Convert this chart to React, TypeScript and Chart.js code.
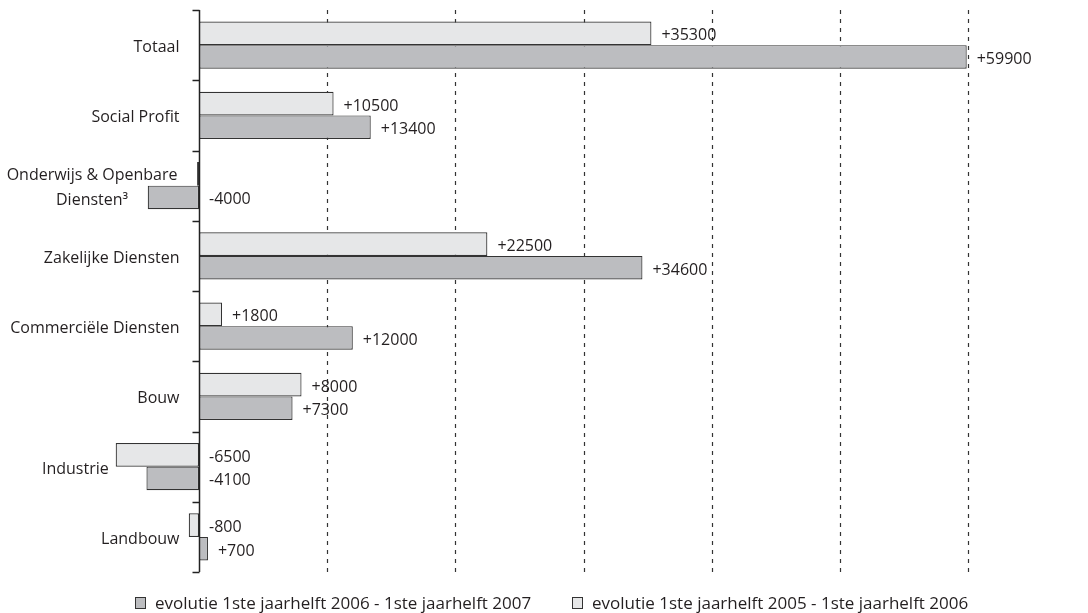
import React, { useEffect, useRef } from "react";
import { Chart, registerables } from "chart.js";

Chart.register(...registerables);

const categories: string[][] = [
  ["Totaal"],
  ["Social Profit"],
  ["Onderwijs & Openbare", "Diensten³"],
  ["Zakelijke Diensten"],
  ["Commerciële Diensten"],
  ["Bouw"],
  ["Industrie"],
  ["Landbouw"],
];
const evol0506 = [35300, 10500, -150, 22500, 1800, 8000, -6500, -800];
const evol0607 = [59900, 13400, -4000, 34600, 12000, 7300, -4100, 700];
const gridValues = [10000, 20000, 30000, 40000, 50000, 60000];
const seriesNames = [
  "evolutie 1ste jaarhelft 2006 - 1ste jaarhelft 2007",
  "evolutie 1ste jaarhelft 2005 - 1ste jaarhelft 2006",
];

const LIGHT = "#e6e7e8";
const DARK = "#bcbdc0";
const EDGE = "#333333";
const TEXT = "#231f20";
const FONT = "'Open Sans', 'DejaVu Sans', sans-serif";

const fmt = (v: number) => (v > 0 ? "+" : "") + String(v);

const decorPlugin = {
  id: "decor",
  beforeDatasetsDraw(chart: any) {
    const { ctx, chartArea, scales } = chart;
    const x = scales.x;
    ctx.save();
    ctx.strokeStyle = EDGE;
    ctx.lineWidth = 1.2;
    ctx.setLineDash([4, 5]);
    gridValues.forEach((v) => {
      const px = Math.round(x.getPixelForValue(v)) + 0.5;
      ctx.beginPath();
      ctx.moveTo(px, chartArea.top);
      ctx.lineTo(px, chartArea.bottom);
      ctx.stroke();
    });
    ctx.restore();
  },
  afterDatasetsDraw(chart: any) {
    const { ctx, chartArea, scales } = chart;
    const x = scales.x;
    const y = scales.y;
    const zero = Math.round(x.getPixelForValue(0)) + 0.5;
    ctx.save();
    // axis
    ctx.strokeStyle = "#222";
    ctx.lineWidth = 1.5;
    ctx.beginPath();
    ctx.moveTo(zero, chartArea.top);
    ctx.lineTo(zero, chartArea.bottom);
    ctx.stroke();
    const n = categories.length;
    const step = (chartArea.bottom - chartArea.top) / n;
    for (let i = 0; i <= n; i++) {
      const ty = Math.round(chartArea.top + i * step) + 0.5;
      ctx.beginPath();
      ctx.moveTo(zero - 7, ty);
      ctx.lineTo(zero, ty);
      ctx.stroke();
    }
    // value labels
    ctx.fillStyle = TEXT;
    ctx.font = `16px ${FONT}`;
    ctx.textAlign = "left";
    ctx.textBaseline = "middle";
    [evol0506, evol0607].forEach((vals, di) => {
      const meta = chart.getDatasetMeta(di);
      vals.forEach((v, j) => {
        if (Math.abs(v) < 500) return;
        const el = meta.data[j];
        const right = Math.max(el.x, el.base);
        ctx.fillText(fmt(v), right + 10, el.y + 2.5);
      });
    });
    // category labels
    ctx.font = `16px ${FONT}`;
    const lineH = 25;
    categories.forEach((lines, j) => {
      const cy = y.getPixelForValue(j) + 2.5;
      if (lines.length === 1) {
        const minV = Math.min(0, evol0506[j], evol0607[j]);
        const left = x.getPixelForValue(minV);
        const r = Math.min(zero - 20, left - 7);
        ctx.textAlign = "right";
        ctx.fillText(lines[0], r, cy);
      } else {
        const w = Math.max(...lines.map((l) => ctx.measureText(l).width));
        const c = zero - 22 - w / 2;
        ctx.textAlign = "center";
        lines.forEach((l, k) => {
          ctx.fillText(l, c, cy + (k - (lines.length - 1) / 2) * lineH);
        });
      }
    });
    // legend
    const legendY = 604;
    const items = [
      { color: DARK, name: seriesNames[0], x: 135 },
      { color: LIGHT, name: seriesNames[1], x: 572 },
    ];
    ctx.textAlign = "left";
    ctx.font = `17px ${FONT}`;
    items.forEach((it) => {
      ctx.fillStyle = it.color;
      ctx.fillRect(it.x, legendY - 7, 11, 12);
      ctx.strokeStyle = EDGE;
      ctx.lineWidth = 1;
      ctx.strokeRect(it.x + 0.5, legendY - 6.5, 10, 11);
      ctx.fillStyle = TEXT;
      ctx.fillText(it.name, it.x + 20, legendY);
    });
    ctx.restore();
  },
};

export default function App() {
  const ref = useRef<HTMLCanvasElement>(null);
  useEffect(() => {
    if (!ref.current) return;
    const chart = new Chart(ref.current, {
      type: "bar",
      data: {
        labels: categories.map((c) => c.join(" ")),
        datasets: [
          {
            label: seriesNames[1],
            data: evol0506,
            backgroundColor: LIGHT,
            borderColor: EDGE,
            borderWidth: 1.2,
            borderSkipped: false,
            categoryPercentage: 0.67,
            barPercentage: 1,
          },
          {
            label: seriesNames[0],
            data: evol0607,
            backgroundColor: DARK,
            borderColor: EDGE,
            borderWidth: 1.2,
            borderSkipped: false,
            categoryPercentage: 0.67,
            barPercentage: 1,
          },
        ],
      },
      options: {
        indexAxis: "y",
        animation: false,
        responsive: true,
        maintainAspectRatio: false,
        layout: { padding: { left: 6.75, right: 120, top: 10, bottom: 41 } },
        scales: {
          x: { display: false, min: -15000, max: 60000 },
          y: { display: false },
        },
        plugins: {
          legend: { display: false },
          tooltip: { enabled: false },
        },
      },
      plugins: [decorPlugin],
    });
    return () => chart.destroy();
  }, []);
  return (
    <div
      style={{
        position: "fixed",
        left: 0,
        top: 0,
        width: 1088,
        height: 613,
        background: "#fff",
      }}
    >
      <canvas ref={ref} />
    </div>
  );
}
